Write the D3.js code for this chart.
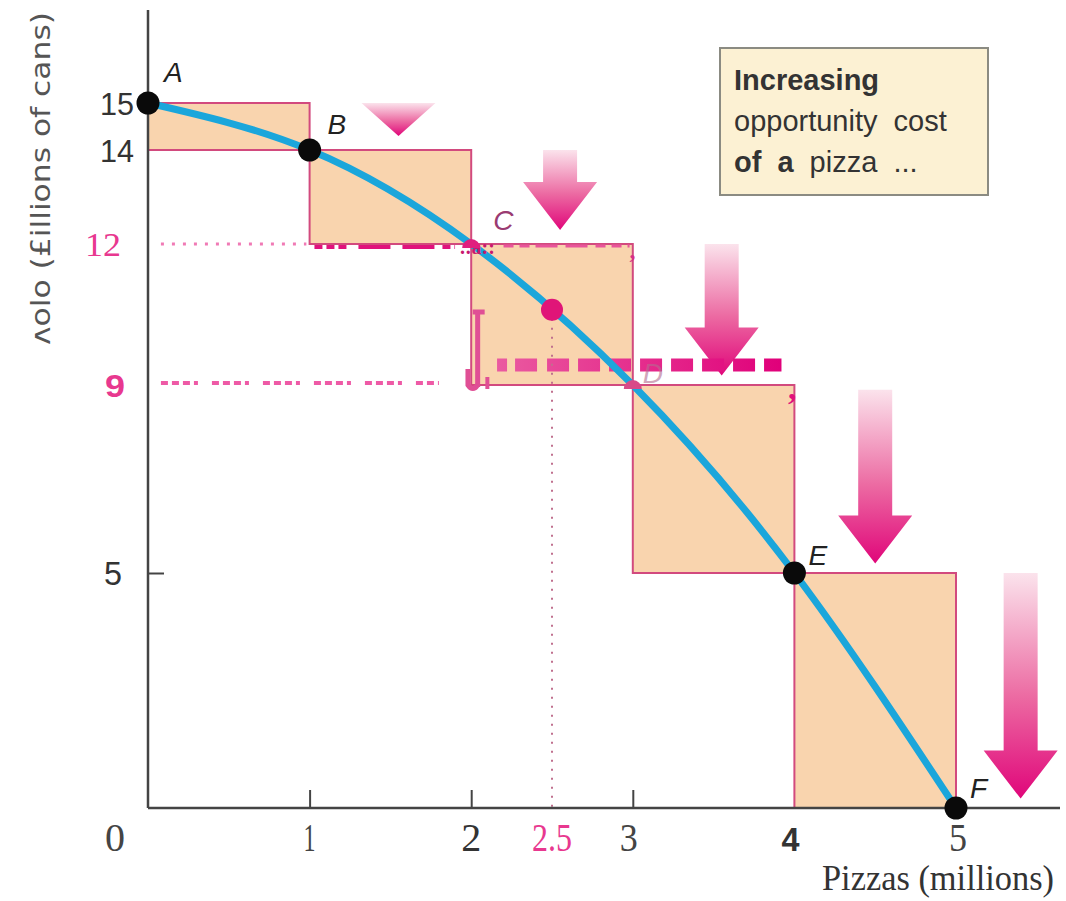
<!DOCTYPE html>
<html>
<head>
<meta charset="utf-8">
<script src="https://cdn.jsdelivr.net/npm/d3@7"></script>
<style>
  html, body { margin: 0; padding: 0; background: #fff; }
  svg { display: block; }
</style>
</head>
<body>
<div id="chart"></div>
<script>
// production possibilities: pizzas (millions) vs cola (millions of cans)
const pointLabels = ["A", "B", "C", "D", "E", "F"];
const pizzas = [0, 1, 2, 3, 4, 5];
const cola = [15, 14, 12, 9, 5, 0];

// midpoint marked on the curve
const midPizza = 2.5;
const midCola = 10.6;

// arrows showing the cola given up for each extra pizza
const arrowX = [1.55, 2.55, 3.55, 4.5, 5.4];
const arrowFrom = [15, 14, 12, 8.9, 5];
const arrowTo = [14.3, 12.3, 9.2, 5.2, 0.2];

const xTickValues = [0, 1, 2, 2.5, 3, 4, 5];
const xTickLabels = ["0", "1", "2", "2.5", "3", "4", "5"];
const yTickValues = [15, 14, 12, 9, 5];
const yTickLabels = ["15", "14", "12", "9", "5"];

const legendLines = [
    [["Increasing", true]],
    [["opportunity cost", false]],
    [["of a", true], [" pizza ...", false]]
];

const width = 1066;
const height = 901;

const svg = d3.select("#chart")
    .append("svg")
    .attr("width", width)
    .attr("height", height);

const x = d3.scaleLinear().domain([0, 5]).range([148, 956]);
const y = d3.scaleLinear().domain([0, 15]).range([808, 103]);

const defs = svg.append("defs");
const grad = defs.append("linearGradient")
    .attr("id", "arrowGrad")
    .attr("x1", 0).attr("y1", 0).attr("x2", 0).attr("y2", 1);
grad.append("stop").attr("offset", "0%").attr("stop-color", "#fbe3ec");
grad.append("stop").attr("offset", "55%").attr("stop-color", "#ec6aa2");
grad.append("stop").attr("offset", "100%").attr("stop-color", "#e0067a");

// user space gradient so it works on a flat line
const dashGrad = defs.append("linearGradient")
    .attr("id", "dashGrad")
    .attr("gradientUnits", "userSpaceOnUse")
    .attr("x1", x(2.16)).attr("y1", 0).attr("x2", x(3.92)).attr("y2", 0);
dashGrad.append("stop").attr("offset", "0%").attr("stop-color", "#ea5aa0");
dashGrad.append("stop").attr("offset", "100%").attr("stop-color", "#e0007a");

// ---------- opportunity cost rectangles ----------
const steps = d3.range(pizzas.length - 1);
svg.selectAll("rect.step")
    .data(steps)
    .enter()
    .append("rect")
    .attr("class", "step")
    .attr("x", (i) => x(pizzas[i]))
    .attr("y", (i) => y(cola[i]))
    .attr("width", (i) => x(pizzas[i + 1]) - x(pizzas[i]))
    .attr("height", (i) => y(cola[i + 1]) - y(cola[i]))
    .attr("fill", "#f9d4ae")
    .attr("stroke", "#d24a7e")
    .attr("stroke-width", 2);

// ---------- arrows ----------
arrowX.forEach((v, i) => {
    const cx = x(v);
    const top = y(arrowFrom[i]);
    const tip = y(arrowTo[i]);
    const headH = Math.min(48, tip - top);
    const headW = 37;
    const shaftW = 17;
    const neck = tip - headH;
    let pts;
    if (tip - top <= 50) {
        pts = [[cx - headW, top], [cx + headW, top], [cx, tip]];
    } else {
        pts = [
            [cx - shaftW, top], [cx + shaftW, top], [cx + shaftW, neck],
            [cx + headW, neck], [cx, tip], [cx - headW, neck], [cx - shaftW, neck]
        ];
    }
    svg.append("path")
        .attr("d", d3.line()(pts) + "Z")
        .attr("fill", "url(#arrowGrad)");
});

// ---------- dashed guide lines ----------
const guides = svg.append("g");
// cola = 12
guides.append("line")
    .attr("x1", x(0.08)).attr("x2", x(0.98))
    .attr("y1", y(12)).attr("y2", y(12))
    .attr("stroke", "#f07ab5").attr("stroke-width", 3)
    .attr("stroke-dasharray", "3 8");
guides.append("line")
    .attr("x1", x(1.03)).attr("x2", x(1.9))
    .attr("y1", y(12) + 3).attr("y2", y(12) + 3)
    .attr("stroke", "#e0127c").attr("stroke-width", 4)
    .attr("stroke-dasharray", "8 4 8 4 8 12 32 12 32 8");
guides.append("line")
    .attr("x1", x(2.2)).attr("x2", x(2.98))
    .attr("y1", y(12) + 2).attr("y2", y(12) + 2)
    .attr("stroke", "#e8559a").attr("stroke-width", 3)
    .attr("stroke-dasharray", "10 6 10 6 22 8 22 8");
guides.append("text")
    .attr("x", x(2.98)).attr("y", y(12) + 14)
    .attr("font-family", "Liberation Serif")
    .attr("font-weight", "bold")
    .attr("font-size", 24)
    .attr("fill", "#d63085")
    .text(",");

// cola = 9
guides.append("line")
    .attr("x1", x(0.08)).attr("x2", x(1.8))
    .attr("y1", y(9) - 2).attr("y2", y(9) - 2)
    .attr("stroke", "#ee5aa6").attr("stroke-width", 4)
    .attr("stroke-dasharray", "7 4 7 4 7 4 4 14");
guides.append("path")
    .attr("d", `M${x(2.04)},${y(9) - 72} L${x(2.04)},${y(9) + 2} M${x(2.04) - 5},${y(9) - 73} L${x(2.04) + 7},${y(9) - 73}`)
    .attr("fill", "none")
    .attr("stroke", "#e04f95")
    .attr("stroke-width", 5);
guides.append("path")
    .attr("d", `M${x(1.98)},${y(9) - 16} L${x(1.98)},${y(9)} Q${x(2.01)},${y(9) + 7} ${x(2.04)},${y(9)}`)
    .attr("fill", "none")
    .attr("stroke", "#e04f95")
    .attr("stroke-width", 5);
guides.append("line")
    .attr("x1", x(2.1)).attr("x2", x(2.1))
    .attr("y1", y(9) - 8).attr("y2", y(9) + 4)
    .attr("stroke", "#e04f95").attr("stroke-width", 4);
guides.append("line")
    .attr("x1", x(2.16)).attr("x2", x(3.92))
    .attr("y1", y(9) - 20).attr("y2", y(9) - 20)
    .attr("stroke", "url(#dashGrad)").attr("stroke-width", 13)
    .attr("stroke-dasharray", "10 8 22 10 22 9 22 9 22 9 22 9 22 9 22 9 22 9 22 9 10 9");
guides.append("text")
    .attr("x", x(3.96)).attr("y", y(9) + 14)
    .attr("font-family", "Liberation Serif")
    .attr("font-weight", "bold")
    .attr("font-size", 34)
    .attr("fill", "#e0127c")
    .text(",");

// vertical dotted line at 2.5
guides.append("line")
    .attr("x1", x(midPizza)).attr("x2", x(midPizza))
    .attr("y1", y(midCola)).attr("y2", y(0))
    .attr("stroke", "#c0708e").attr("stroke-width", 2)
    .attr("stroke-dasharray", "2 7");

// ---------- PPF curve ----------
const curvePts = pizzas.map((p, i) => [x(p), y(cola[i])]);
svg.append("path")
    .attr("d", d3.line().curve(d3.curveNatural)(curvePts))
    .attr("fill", "none")
    .attr("stroke", "#1ba6db")
    .attr("stroke-width", 7);

// stray mark over the curve at cola = 12
svg.append("text")
    .attr("x", x(1.93)).attr("y", y(12) + 10)
    .attr("font-family", "Liberation Serif")
    .attr("font-weight", "bold")
    .attr("font-size", 20)
    .attr("fill", "#c8186e")
    .text(".:a::");

// ---------- axes ----------
svg.append("line")
    .attr("x1", x(0)).attr("x2", 1060)
    .attr("y1", y(0)).attr("y2", y(0))
    .attr("stroke", "#444").attr("stroke-width", 2.5);
svg.append("line")
    .attr("x1", x(0)).attr("x2", x(0))
    .attr("y1", 10).attr("y2", y(0))
    .attr("stroke", "#444").attr("stroke-width", 2.5);

const xAxis = svg.append("g")
    .attr("transform", `translate(0,${y(0)})`)
    .call(d3.axisTop(x).tickValues([1, 2, 3]).tickSize(18).tickFormat(""));
xAxis.select(".domain").remove();
xAxis.selectAll("line").attr("stroke", "#444").attr("stroke-width", 2);

const yAxis = svg.append("g")
    .attr("transform", `translate(${x(0)},0)`)
    .call(d3.axisRight(y).tickValues([5]).tickSize(16).tickFormat(""));
yAxis.select(".domain").remove();
yAxis.selectAll("line").attr("stroke", "#444").attr("stroke-width", 2);

// ---------- points ----------
svg.selectAll("circle.pt")
    .data(pizzas.map((p, i) => i).filter((i) => i !== 2 && i !== 3))
    .enter()
    .append("circle")
    .attr("class", "pt")
    .attr("cx", (i) => x(pizzas[i]))
    .attr("cy", (i) => y(cola[i]))
    .attr("r", 11.5)
    .attr("fill", "#0a0a0a");

// C and D markers (half hidden)
[2, 3].forEach((i) => {
    svg.append("path")
        .attr("d", d3.arc().innerRadius(0).outerRadius(9).startAngle(-Math.PI / 2).endAngle(Math.PI / 2)())
        .attr("transform", `translate(${x(pizzas[i])},${y(cola[i]) + 4})`)
        .attr("fill", i === 2 ? "#e0207e" : "#d84a88");
});

svg.append("circle")
    .attr("cx", x(midPizza))
    .attr("cy", y(midCola))
    .attr("r", 11)
    .attr("fill", "#e01578");

// point labels
const labelDx = [16, 18, 22, 10, 14, 14];
const labelDy = [-21, -16, -14, -2, -8, -10];
const labelColor = ["#222", "#222", "#9a3b72", "#b46c90", "#222", "#222"];
svg.selectAll("text.ptlabel")
    .data(pointLabels)
    .enter()
    .append("text")
    .attr("class", "ptlabel")
    .attr("x", (d, i) => x(pizzas[i]) + labelDx[i])
    .attr("y", (d, i) => y(cola[i]) + labelDy[i])
    .attr("font-family", "Liberation Sans, Arial, sans-serif")
    .attr("font-style", "italic")
    .attr("font-size", 28)
    .attr("fill", (d, i) => labelColor[i])
    .attr("opacity", (d, i) => (i === 3 ? 0.6 : 1))
    .text((d) => d);

// ---------- tick labels ----------
const yStyle = [
    { fam: "Liberation Sans", size: 32, weight: "normal", fill: "#333", len: 34, x: 100 },
    { fam: "Liberation Sans", size: 32, weight: "normal", fill: "#333", len: 34, x: 100 },
    { fam: "Liberation Serif", size: 34, weight: "normal", fill: "#e8388f", len: 36, x: 85 },
    { fam: "Liberation Sans", size: 32, weight: "bold", fill: "#e8388f", len: 20, x: 105 },
    { fam: "Liberation Sans", size: 34, weight: "normal", fill: "#333", len: 18, x: 104 }
];
svg.selectAll("text.ytick")
    .data(yTickLabels)
    .enter()
    .append("text")
    .attr("class", "ytick")
    .attr("x", (d, i) => yStyle[i].x)
    .attr("y", (d, i) => y(yTickValues[i]) + 12)
    .attr("font-family", (d, i) => yStyle[i].fam)
    .attr("font-size", (d, i) => yStyle[i].size)
    .attr("font-weight", (d, i) => yStyle[i].weight)
    .attr("fill", (d, i) => yStyle[i].fill)
    .attr("textLength", (d, i) => yStyle[i].len)
    .attr("lengthAdjust", "spacingAndGlyphs")
    .text((d) => d);

const xStyle = [
    { fam: "Liberation Serif", weight: "normal", fill: "#444", size: 40, len: 20 },
    { fam: "Liberation Serif", weight: "normal", fill: "#444", size: 40, len: 12 },
    { fam: "Liberation Serif", weight: "normal", fill: "#333", size: 40, len: 20 },
    { fam: "Liberation Serif", weight: "normal", fill: "#e8388f", size: 40, len: 40 },
    { fam: "Liberation Serif", weight: "normal", fill: "#444", size: 40, len: 18 },
    { fam: "Liberation Sans", weight: "bold", fill: "#333", size: 34, len: 18 },
    { fam: "Liberation Serif", weight: "normal", fill: "#444", size: 40, len: 18 }
];
const xOffset = [-33, 0, 0, 0, -4, -4, 2];
svg.selectAll("text.xtick")
    .data(xTickLabels)
    .enter()
    .append("text")
    .attr("class", "xtick")
    .attr("x", (d, i) => x(xTickValues[i]) + xOffset[i])
    .attr("y", 851)
    .attr("text-anchor", "middle")
    .attr("font-family", (d, i) => xStyle[i].fam)
    .attr("font-size", (d, i) => xStyle[i].size)
    .attr("font-weight", (d, i) => xStyle[i].weight)
    .attr("fill", (d, i) => xStyle[i].fill)
    .attr("textLength", (d, i) => xStyle[i].len)
    .attr("lengthAdjust", "spacingAndGlyphs")
    .text((d) => d);

// ---------- axis titles ----------
svg.append("text")
    .attr("x", 822)
    .attr("y", 890)
    .attr("font-family", "Liberation Serif")
    .attr("font-size", 36)
    .attr("fill", "#333")
    .attr("textLength", 232)
    .attr("lengthAdjust", "spacingAndGlyphs")
    .text("Pizzas (millions)");

svg.append("text")
    .attr("transform", "translate(50,345) rotate(-90)")
    .attr("font-family", "DejaVu Sans")
    .attr("font-size", 27)
    .attr("fill", "#555")
    .attr("textLength", 333)
    .attr("lengthAdjust", "spacingAndGlyphs")
    .text("\u028Colo (£illions of cans)");

// ---------- note box ----------
svg.append("rect")
    .attr("x", 720).attr("y", 48)
    .attr("width", 268).attr("height", 147)
    .attr("fill", "#fcf1d3")
    .attr("stroke", "#8b8b82")
    .attr("stroke-width", 2);

const note = svg.append("text")
    .attr("font-family", "Liberation Sans, Arial, sans-serif")
    .attr("font-size", 29)
    .attr("word-spacing", 8)
    .attr("fill", "#333");
legendLines.forEach((line, i) => {
    const t = note.append("tspan")
        .attr("x", 734)
        .attr("y", 90 + i * 41);
    line.forEach((part) => {
        t.append("tspan")
            .attr("font-weight", part[1] ? "bold" : "normal")
            .text(part[0]);
    });
});
</script>
</body>
</html>
